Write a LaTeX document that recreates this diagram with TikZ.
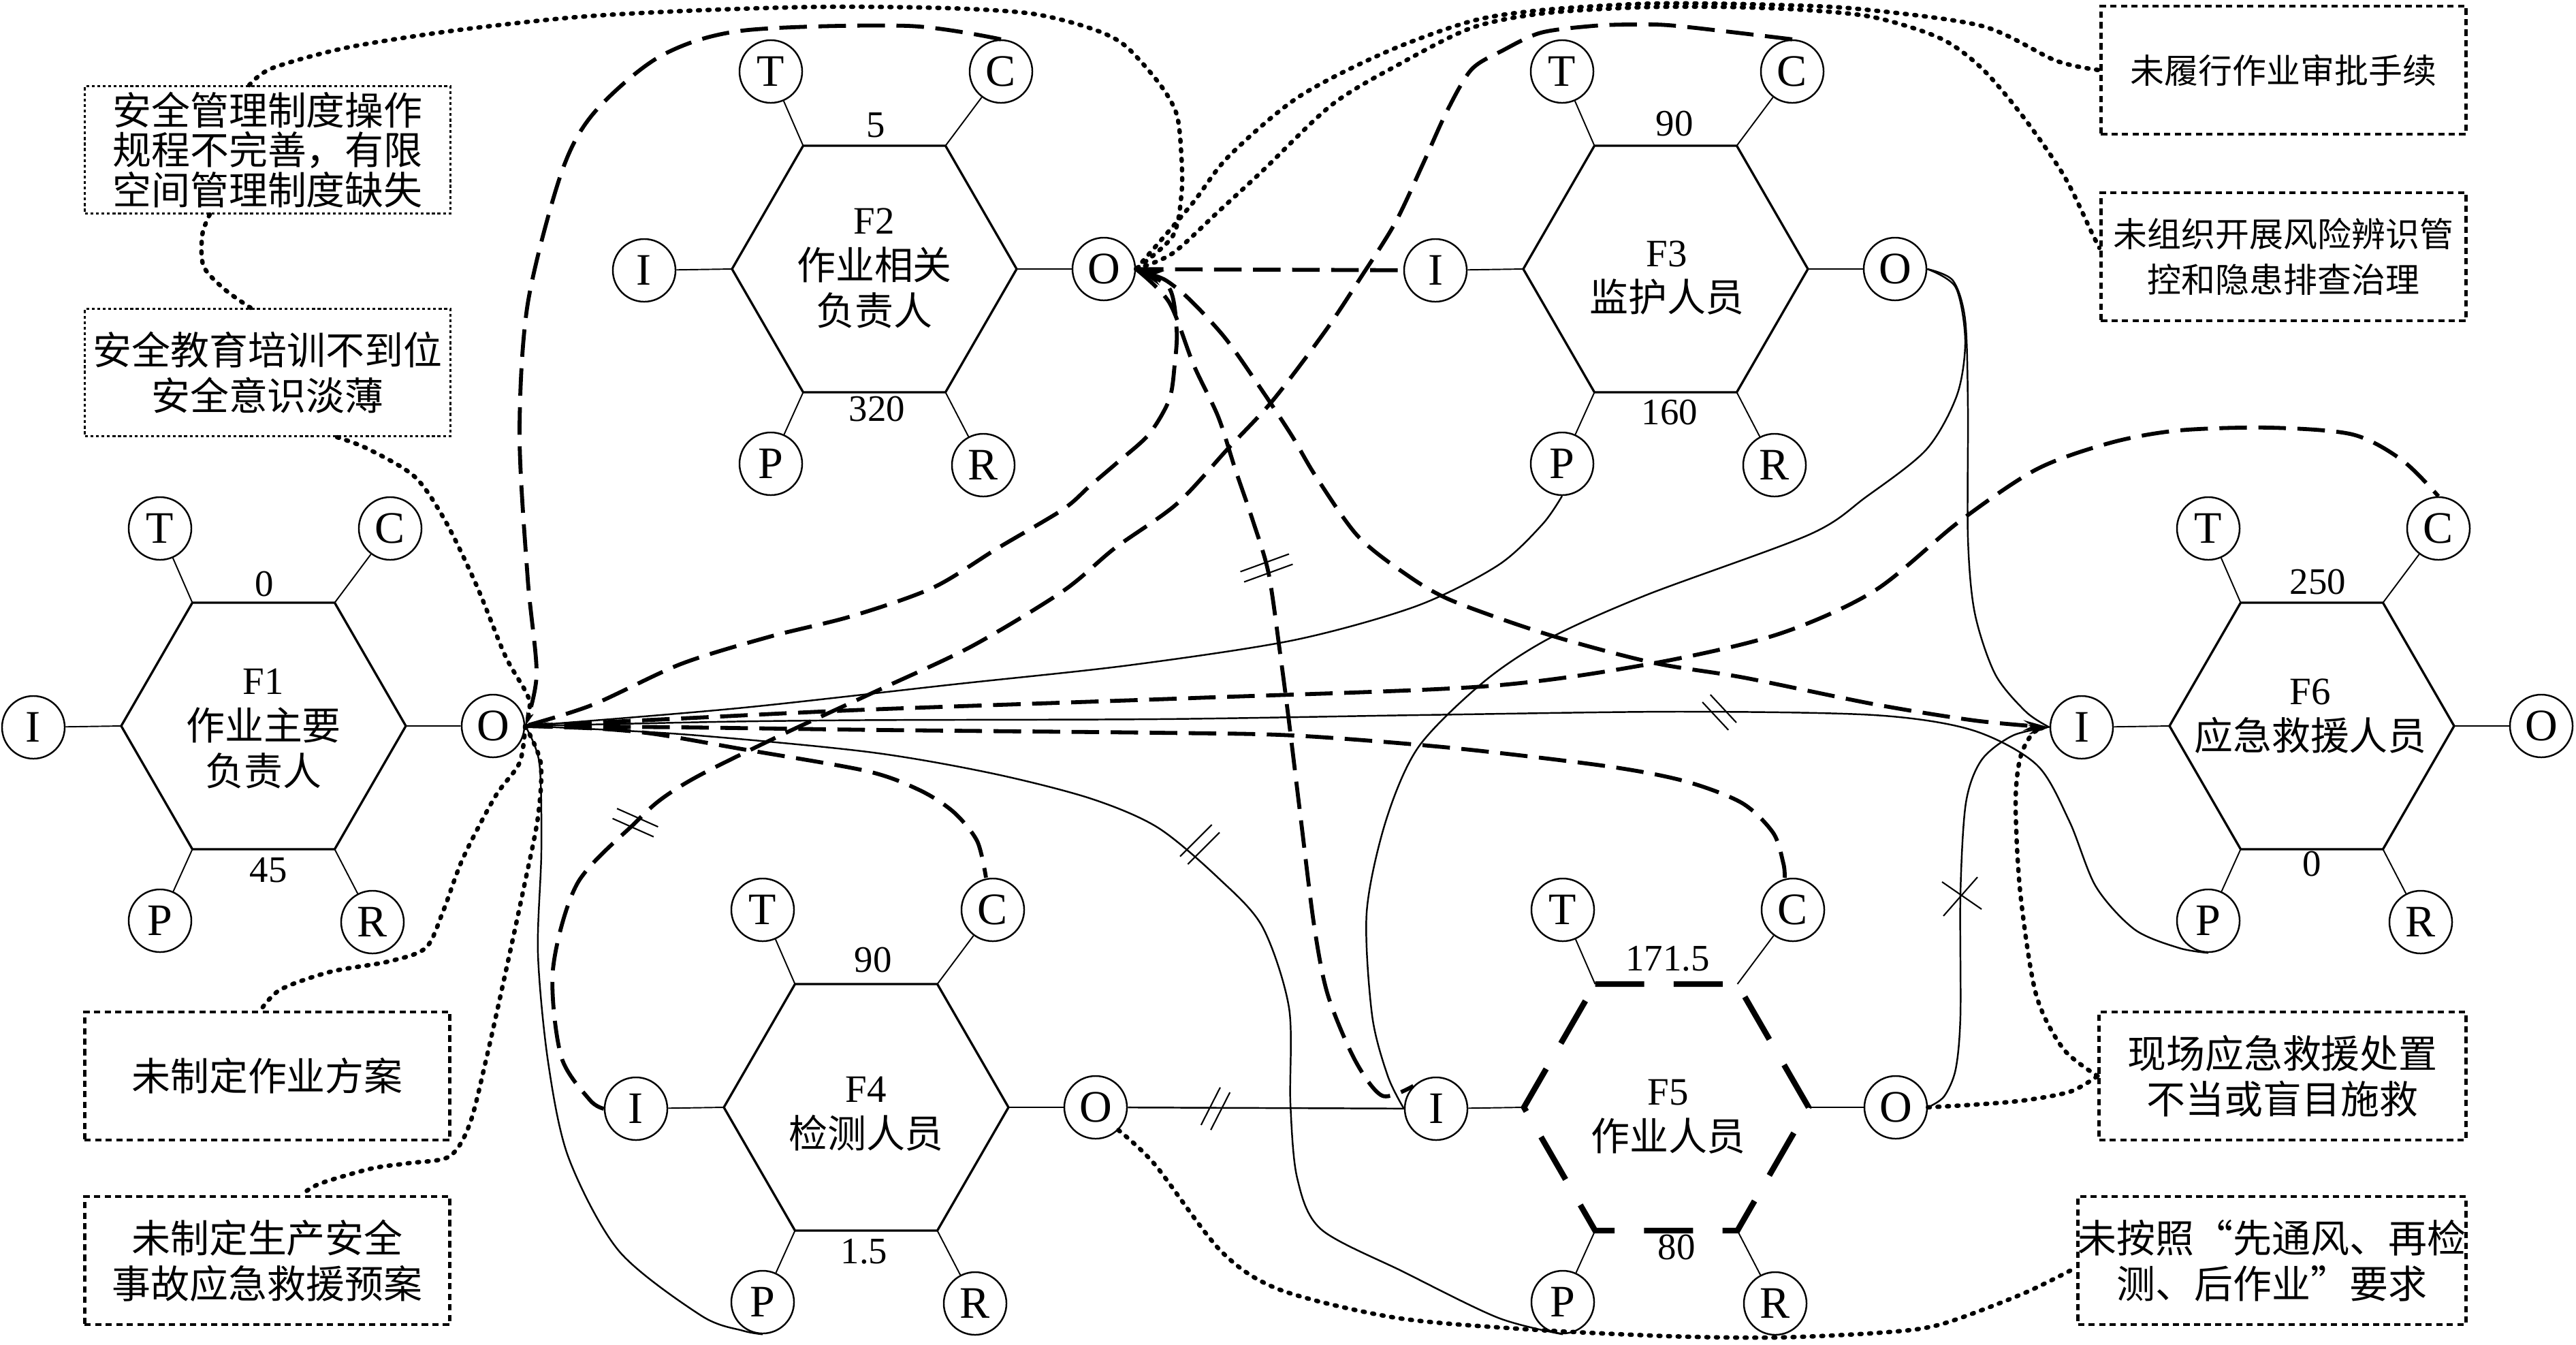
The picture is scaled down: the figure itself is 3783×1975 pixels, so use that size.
\documentclass[tikz,border=0pt]{standalone}
\usepackage{fontspec}
\setmainfont{Liberation Serif}
\newfontfamily\cjk{Noto Sans CJK SC}
\usetikzlibrary{arrows.meta}
\tikzset{
  sat/.style={circle,draw,line width=0.7pt,minimum size=0.92cm,inner sep=0pt,font=\fontsize{18.8pt}{20pt}\selectfont},
  satline/.style={line width=0.55pt},
  hexline/.style={line width=0.95pt},
  hexdash/.style={line width=2.4pt,dash pattern=on 20.5pt off 12.3pt},
  val/.style={inner sep=0pt,font=\fontsize{15.6pt}{17pt}\selectfont},
  hexlab/.style={align=center,inner sep=0pt,font=\fontsize{16.2pt}{19pt}\selectfont},
  solc/.style={line width=0.7pt},
  dashc/.style={line width=1.65pt,dash pattern=on 11.5pt off 4.8pt},
  dotc/.style={line width=1.85pt,line cap=round,dash pattern=on 0.8pt off 3.2pt},
  boxfine/.style={draw,line width=0.8pt,dash pattern=on 1.2pt off 1.1pt,minimum width=5.36cm,minimum height=1.87cm,align=center,inner sep=0pt},
  boxbold/.style={draw,line width=1.35pt,dash pattern=on 2.6pt off 1.8pt,minimum width=5.36cm,minimum height=1.88cm,align=center,inner sep=0pt},
  cjkbig/.style={font={\cjk\fontsize{16.2pt}{19pt}\selectfont}},
  cjksmall/.style={font={\cjk\fontsize{14.2pt}{19pt}\selectfont}},
  tickl/.style={line width=0.6pt},
  tipS/.style={-{Stealth[length=0.3cm,width=0.13cm]}},
  tipSmall/.style={-{Stealth[length=0.2cm,width=0.1cm]}},
}
\newcommand{\framfn}[4]{%
  \coordinate (#1va) at (#2-209,#3);
  \coordinate (#1vb) at (#2-104.5,#3-181);
  \coordinate (#1vc) at (#2+104.5,#3-181);
  \coordinate (#1vd) at (#2+209,#3);
  \coordinate (#1ve) at (#2+104.5,#3+181);
  \coordinate (#1vf) at (#2-104.5,#3+181);
  \draw[#4] (#1vb) -- (#1vc) -- (#1vd) -- (#1ve) -- (#1vf) -- (#1va) -- cycle;
  \node[sat] (#1T) at (#2-152,#3-290) {T};
  \node[sat] (#1C) at (#2+186,#3-290) {C};
  \node[sat] (#1I) at (#2-338,#3+2) {I};
  \node[sat] (#1O) at (#2+337,#3) {O};
  \node[sat] (#1P) at (#2-152,#3+286) {P};
  \node[sat] (#1R) at (#2+160,#3+288) {R};
  \draw[satline] (#1vb) -- (#1T) (#1vc) -- (#1C) (#1va) -- (#1I) (#1vd) -- (#1O) (#1vf) -- (#1P) (#1ve) -- (#1R);
}
\newcommand{\twotick}[4]{%
  \begin{scope}[shift={(#1,#2)},rotate=#3]
    \draw[tickl] (-#4,-8) -- (#4,-8) (-#4,8) -- (#4,8);
  \end{scope}}
\begin{document}
\begin{tikzpicture}[x=0.01cm,y=-0.01cm]
\path[fill=white] (0,0) rectangle (3783,1975);
\useasboundingbox (0,0) rectangle (3783,1975);

% functions
\framfn{f1}{387}{1066}{hexline}
\framfn{f2}{1284}{395}{hexline}
\framfn{f3}{2446}{395}{hexline}
\framfn{f4}{1272}{1626}{hexline}
\framfn{f5}{2447}{1626}{hexdash}
\framfn{f6}{3395}{1066}{hexline}

\node[hexlab] (f1L) at (387,1070) {F1\\{\cjk 作业主要}\\{\cjk 负责人}};
\node[hexlab] (f2L) at (1284,394) {F2\\{\cjk 作业相关}\\{\cjk 负责人}};
\node[hexlab] (f3L) at (2448,408) {F3\\{\cjk 监护人员}};
\node[hexlab] (f4L) at (1272,1636) {F4\\{\cjk 检测人员}};
\node[hexlab] (f5L) at (2450,1640) {F5\\{\cjk 作业人员}};
\node[hexlab] (f6L) at (3393,1052) {F6\\{\cjk 应急救援人员}};

\node[val] (f1t) at (388,858) {0};
\node[val] (f1b) at (394,1278) {45};
\node[val] (f2t) at (1286,184) {5};
\node[val] (f2b) at (1288,601) {320};
\node[val] (f3t) at (2459,182) {90};
\node[val] (f3b) at (2452,606) {160};
\node[val] (f4t) at (1282,1410) {90};
\node[val] (f4b) at (1269,1838) {1.5};
\node[val] (f5t) at (2449,1408) {171.5};
\node[val] (f5b) at (2462,1832) {80};
\node[val] (f6t) at (3404,855) {250};
\node[val] (f6b) at (3395,1269) {0};

% boxes
\node[boxfine,font={\cjk\fontsize{16.2pt}{16.6pt}\selectfont}] (bA) at (393,220) {安全管理制度操作\\规程不完善，有限\\空间管理制度缺失};
\node[boxfine,cjkbig] (bB) at (393,547) {安全教育培训不到位\\安全意识淡薄};
\node[boxbold,cjkbig] (bC) at (392.5,1580) {未制定作业方案};
\node[boxbold,cjkbig] (bD) at (392.5,1851) {未制定生产安全\\事故应急救援预案};
\node[boxbold,cjksmall] (bE) at (3353.5,103) {未履行作业审批手续};
\node[boxbold,cjksmall] (bF) at (3353.5,377) {未组织开展风险辨识管\\控和隐患排查治理};
\node[boxbold,cjkbig,minimum width=5.38cm] (bG) at (3352,1580) {现场应急救援处置\\不当或盲目施救};
\node[boxbold,cjkbig,minimum width=5.69cm] (bH) at (3336.5,1851) {未按照“先通风、再检\\测、后作业”要求};

% dotted links (latent conditions)
\draw[dotc] plot[smooth] coordinates {([xshift=-0.27cm]bA.north) (400,100) (509,70) (666,45) (848,25) (1030,15) (1212,10) (1393,12) (1515,20) (1600,41) (1651,66) (1702,122) (1728,168) (1735,230) (1735,286) (1722,347) (f2O.east)};
\draw[dotc] plot[smooth] coordinates {([xshift=-0.85cm]bA.south) (297,345) (299,391) (330,425) ([xshift=-0.25cm]bB.north)};
\draw[dotc,tipSmall] plot[smooth] coordinates {([xshift=1.02cm]bB.south) (540,659) (609,700) (654,765) (700,860) (742,963) (777,1027) (f1O.east)};
\draw[dotc] plot[smooth] coordinates {(f1O.east) (763,1120) (727,1170) (680,1260) (650,1340) (625,1392) (570,1412) (485,1427) (412,1453) ([xshift=-0.1cm]bC.north)};
\draw[dotc] plot[smooth] coordinates {(f1O.east) (794,1120) (790,1200) (770,1300) (742,1430) (715,1551) (690,1650) (660,1698) (600,1708) (545,1716) (470,1738) ([xshift=0.5cm]bD.north)};
\draw[dotc] plot[smooth] coordinates {(f2O.east) (1750,300) (1804,230) (1906,143) (2034,77) (2161,31) (2263,15) (2400,6) (2486,5) (2600,7) (2728,13) (2910,38) (3019,89) (bE.west)};
\draw[dotc] plot[smooth] coordinates {(f2O.east) (1722,372) (1790,310) (1855,250) (1957,153) (2059,92) (2161,41) (2263,20) (2400,11) (2520,10) (2640,14) (2750,25) (2849,56) (2910,100) (2970,170) (3031,258) (3073,344) ([yshift=0.13cm]bF.west)};
\draw[dotc] plot[smooth] coordinates {(f5O.east) (2900,1622) (2971,1616) (3040,1603) (bG.west)};
\draw[dotc,tipS] plot[smooth] coordinates {(bG.west) (3030,1540) (2990,1460) (2967,1312) (2960,1179) (2967,1112) (2986,1076) (f6I.west)};
\draw[dotc] plot[smooth] coordinates {(f4O.south east) (1696,1710) (1793,1837) (1880,1894) (2050,1935) (2244,1952) (2450,1962) (2607,1964) (2760,1957) (2849,1945) (2970,1900) ([yshift=-0.1cm]bH.west)};

% dashed links
\draw[dashc,tipSmall] plot[smooth] coordinates {(f2C.north) (1333,38) (1090,45) (969,83) (872,166) (824,255) (775,446) (763,638) (775,850) (788,990) (f1O.east)};
\draw[dashc] (f2O) -- (f3I);
\draw[dashc] plot[smooth] coordinates {(f2O.east) (1717,423) (1728,485) (1725,536) (1717,587) (1687,638) (1641,679) (1600,714) (1561,748) (1465,805) (1370,863) (1250,905) (1130,935) (1000,975) (870,1035) (f1O.east)};
\draw[dashc] plot[smooth] coordinates {(f3C.north) (2462,38) (2400,36) (2340,38) (2263,48) (2207,74) (2161,102) (2125,163) (2090,240) (2049,327) (1998,408) (1947,485) (1870,587) (1804,658) (1728,740) (1637,805) (1561,868) (1427,949) (1293,1012) (1150,1078) (1030,1137) (973,1172) (933,1208) (848,1297) (812,1424) (824,1551) (866,1615) (f4I.west)};
\draw[dashc] plot[smooth] coordinates {(f2O.east) (1717,444) (1753,536) (1789,612) (1814,689) (1840,765) (1863,842) (1880,960) (1893,1060) (1910,1200) (1930,1360) (1950,1461) (1990,1557) (2030,1609) (f5I.north west)};
\draw[dashc,{Stealth[length=0.4cm,width=0.22cm]}-{Stealth[length=0.38cm,width=0.15cm]}] plot[smooth] coordinates {(f2O.east) (1728,423) (1794,490) (1845,561) (1896,638) (1932,699) (1993,786) (2060,840) (2130,881) (2274,932) (2427,973) (2561,995) (2752,1034) (2900,1058) (f6I.west)};
\draw[dashc] plot[smooth] coordinates {(f1O.east) (1000,1055) (1274,1042) (1752,1025) (2178,1008) (2417,976) (2609,932) (2752,868) (2877,766) (2991,689) (3100,650) (3200,632) (3334,628) (3455,638) (3528,676) (f6C.north)};
\draw[dashc] plot[smooth] coordinates {(f1O.east) (1000,1068) (1300,1072) (1700,1076) (1900,1080) (2130,1098) (2359,1125) (2474,1147) (2558,1179) (2604,1223) (2619,1268) ([xshift=-0.12cm]f5C.north)};
\draw[dashc] plot[smooth] coordinates {(f1O.east) (880,1070) (963,1078) (1090,1100) (1272,1132) (1350,1160) (1400,1192) (1435,1235) ([xshift=-0.1cm]f4C.north)};

% solid links
\draw[solc] plot[smooth] coordinates {(f1O.east) (792,1120) (795,1250) (790,1400) (805,1560) (835,1700) (909,1837) (1030,1932) (1091,1954) (f4P.south)};
\draw[solc] plot[smooth] coordinates {(f1O.east) (1083,1040) (1400,1005) (1657,977) (1900,940) (2080,890) (2200,830) (2265,770) (f3P.south)};
\draw[solc,{Stealth[length=0.35cm,width=0.1cm]}-] plot[smooth] coordinates {(f1O.east) (1200,1058) (1700,1056) (2083,1050) (2465,1045) (2752,1050) (2896,1072) (2991,1123) (3039,1206) (3078,1302) (3135,1365) (3200,1392) (f6P.south)};
\draw[solc] plot[smooth] coordinates {(f1O.east) (1000,1078) (1274,1104) (1454,1135) (1600,1172) (1700,1215) (1790,1290) (1854,1361) (1893,1480) (1895,1620) (1905,1730) (1940,1805) (2062,1868) (2200,1935) (f5P.south)};
\draw[solc] (f4O) -- (f5I);
\draw[solc] plot[smooth] coordinates {(f3O.east) (2868,412) (2886,470) (2890,600) (2890,790) (2900,900) (2930,990) (2975,1045) (f6I.west)};
\draw[solc] plot[smooth] coordinates {(f3O.east) (2872,422) (2886,500) (2874,580) (2829,660) (2740,730) (2657,785) (2417,874) (2274,938) (2178,1002) (2083,1097) (2035,1206) (2007,1340) (2015,1491) (2038,1580) (f5I.west)};
\draw[solc,tipS] plot[smooth] coordinates {(f5O.east) (2855,1610) (2872,1570) (2879,1491) (2879,1312) (2887,1179) (2910,1116) (2956,1080) (f6I.west)};

% cut marks
\twotick{933}{1208}{-24}{33}
\twotick{1860}{834}{20}{38}
\twotick{2525}{1046}{-47}{28}
\twotick{1762}{1240}{45}{33}
\twotick{1785}{1628}{63}{31}
\begin{scope}[shift={(2880,1315)}]
  \draw[tickl] (-28,-20) -- (30,20) (-26,30) -- (24,-27);
\end{scope}
\end{tikzpicture}
\end{document}
